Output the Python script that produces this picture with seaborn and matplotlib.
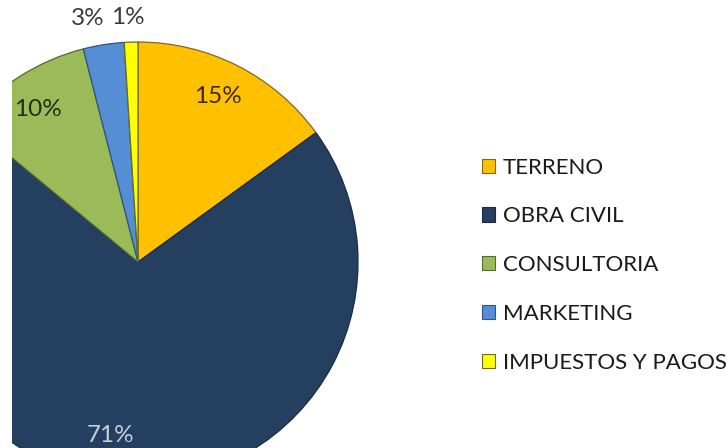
import numpy as np
import matplotlib
matplotlib.use("Agg")
import matplotlib.pyplot as plt
import seaborn as sns
from matplotlib.patches import Patch

categories = ["TERRENO", "OBRA CIVIL", "CONSULTORIA", "MARKETING", "IMPUESTOS Y PAGOS"]
values = [15, 71, 10, 3, 1]
pct_labels = ["15%", "71%", "10%", "3%", "1%"]

colors = ["#FFC000", "#243F60", "#9BBB59", "#558ED5", "#FFFF00"]
edges = ["#7a6a20", "#1a2a40", "#56692e", "#2f5580", "#6a6a20"]
label_colors = ["#3d2a05", "#c9ced6", "#1f2e14", "#3a3a3a", "#3a3a3a"]
label_radius = [0.835, 0.80, 0.832, 1.13, 1.11]
label_angle_shift = [1.3, -7.1, 0.9, 2.6, 0.5]

sns.set_theme(style="white")
plt.rcParams["font.family"] = ["Lato", "DejaVu Sans"]

W, H = 727, 448
fig = plt.figure(figsize=(W / 100, H / 100), dpi=100)
fig.patch.set_facecolor("white")

cx, cy, R = 138.0, 262.0, 220.0
left_px = 12.0
ax = fig.add_axes([left_px / W, 0, (W - left_px) / W, 1])
wedges, _ = ax.pie(values, colors=colors, startangle=90, counterclock=False,
                   radius=1.0, center=(0, 0),
                   wedgeprops=dict(linewidth=0.9))
for w, ec in zip(wedges, edges):
    w.set_edgecolor(ec)
    w.set_clip_on(True)
    w.set_clip_path(ax.patch)

ax.set_aspect("auto")
ax.set_xlim((left_px - cx) / R, (W - cx) / R)
ax.set_ylim(-(H - cy) / R, cy / R)
ax.axis("off")

total = float(sum(values))
start = 90.0
for v, lab, col, r, sh in zip(values, pct_labels, label_colors, label_radius, label_angle_shift):
    span = 360.0 * v / total
    mid = np.deg2rad(start - span / 2 + sh)
    ax.text(r * np.cos(mid), r * np.sin(mid), lab, ha="center", va="center",
            fontsize=17.5, color=col, clip_on=True)
    start -= span

handles = [Patch(facecolor=c, edgecolor=e, linewidth=0.8) for c, e in zip(colors, edges)]
leg = fig.legend(handles, categories, loc="upper left",
                 bbox_to_anchor=(482 / W, 1 - 157.5 / H), frameon=False,
                 borderpad=0, borderaxespad=0,
                 fontsize=16, handlelength=0.6, handleheight=0.6,
                 handletextpad=0.35, labelspacing=1.3, labelcolor="#1a1a1a")

fig.savefig("out.png", dpi=100, facecolor="white")
